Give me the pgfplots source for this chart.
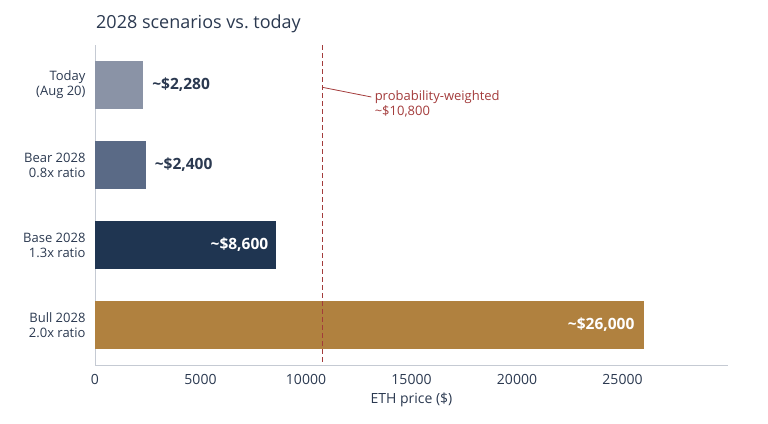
\documentclass[border=0pt]{standalone}
\usepackage{pgfplots}
\pgfplotsset{compat=1.18}
\usepackage{fontspec}
\setmainfont{Open Sans}
\definecolor{txt}{HTML}{2B3950}
\definecolor{cToday}{HTML}{8A93A6}
\definecolor{cBear}{HTML}{5A6A86}
\definecolor{cBase}{HTML}{1F3551}
\definecolor{cBull}{HTML}{B0813F}
\definecolor{cRed}{HTML}{A33B3B}
\definecolor{axgray}{HTML}{C5CAD3}
\begin{document}
\begin{tikzpicture}[x=1pt,y=1pt]
\useasboundingbox (0,0) rectangle (768,423);
\node[anchor=base west, text=txt, font=\fontsize{18}{20}\selectfont, inner sep=0pt] at (96,394) {2028 scenarios vs.\ today};
\begin{axis}[
  at={(95pt,58pt)}, anchor=south west,
  scale only axis, width=633pt, height=320pt,
  xmin=0, xmax=30000,
  ymin=-0.5, ymax=3.5, y dir=reverse,
  axis lines*=left,
  axis line style={axgray, line width=1pt},
  xtick={0,5000,10000,15000,20000,25000},
  ytick={0,1,2,3},
  yticklabels={{Today\\(Aug 20)},{Bear 2028\\0.8x ratio},{Base 2028\\1.3x ratio},{Bull 2028\\2.0x ratio}},
  y tick label style={align=right, font=\fontsize{13}{15}\selectfont, text=txt},
  x tick label style={font=\fontsize{14}{16}\selectfont, text=txt},
  /pgf/number format/assume math mode=true,
  scaled x ticks=false,
  xticklabel style={/pgf/number format/1000 sep={}},
  major tick length=0pt,
  xlabel={ETH price (\$)},
  xlabel style={font=\fontsize{14}{16}\selectfont, text=txt, yshift=-1pt},
  yticklabel style={xshift=-6pt},
  xticklabel style={yshift=-6pt},
  clip=false,
]
\addplot[xbar, bar width=48pt, bar shift=0pt, fill=cToday, draw=none] coordinates {(2280,0)};
\addplot[xbar, bar width=48pt, bar shift=0pt, fill=cBear, draw=none] coordinates {(2400,1)};
\addplot[xbar, bar width=48pt, bar shift=0pt, fill=cBase, draw=none] coordinates {(8600,2)};
\addplot[xbar, bar width=48pt, bar shift=0pt, fill=cBull, draw=none] coordinates {(26000,3)};
\addplot[sharp plot, draw=cRed, color=cRed, line width=1.1pt, dash pattern=on 5pt off 3pt] coordinates {(10800,-0.5) (10800,3.5)};
\draw[draw=cRed, line width=0.8pt] (axis cs:10800,0.03) -- (axis cs:13100,0.15);
\node[anchor=west, align=left, text=cRed, font=\fontsize{13}{15}\selectfont, inner sep=0pt] at (axis cs:13250,0.23) {probability-weighted\\\textasciitilde\$10,800};
\node[anchor=west, text=txt, font=\fontsize{15.5}{17}\selectfont\bfseries, inner sep=0pt] at (axis cs:2280,0) [xshift=9pt] {\textasciitilde\$2,280};
\node[anchor=west, text=txt, font=\fontsize{15.5}{17}\selectfont\bfseries, inner sep=0pt] at (axis cs:2400,1) [xshift=9pt] {\textasciitilde\$2,400};
\node[anchor=east, text=white, font=\fontsize{15.5}{17}\selectfont\bfseries, inner sep=0pt] at (axis cs:8600,2) [xshift=-8pt] {\textasciitilde\$8,600};
\node[anchor=east, text=white, font=\fontsize{15.5}{17}\selectfont\bfseries, inner sep=0pt] at (axis cs:26000,3) [xshift=-9pt] {\textasciitilde\$26,000};
\end{axis}
\end{tikzpicture}
\end{document}
